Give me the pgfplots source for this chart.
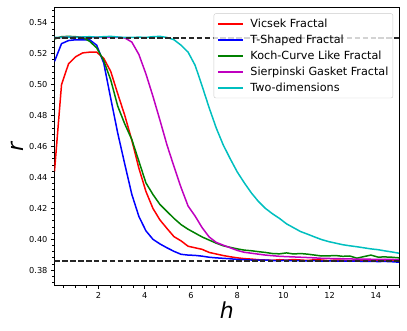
\documentclass[border=0pt]{standalone}
\usepackage{fontspec}
\setmainfont{DejaVu Sans}
\usepackage{pgfplots}
\usepackage{pgfplotstable}
\pgfplotsset{compat=1.18}

\definecolor{mplgreen}{rgb}{0,0.5,0}
\definecolor{mplmag}{rgb}{0.75,0,0.75}
\definecolor{mplcyan}{rgb}{0,0.75,0.75}

% h, Vicsek, T-shaped, Koch-curve like, Sierpinski gasket, two-dimensions
\pgfplotstableread{
h      vic     tsh     koch    sier    two
0.100  0.4440  0.5150  0.5295  0.5300  0.5305
0.404  0.5000  0.5265  0.5310  0.5305  0.5305
0.708  0.5135  0.5285  0.5312  0.5308  0.5308
1.012  0.5180  0.5290  0.5310  0.5305  0.5305
1.316  0.5205  0.5290  0.5305  0.5306  0.5308
1.620  0.5210  0.5290  0.5280  0.5305  0.5310
1.924  0.5210  0.5255  0.5238  0.5305  0.5307
2.229  0.5170  0.5140  0.5155  0.5305  0.5310
2.533  0.5085  0.4910  0.5030  0.5305  0.5312
2.837  0.4940  0.4685  0.4860  0.5306  0.5308
3.141  0.4800  0.4485  0.4745  0.5302  0.5305
3.445  0.4640  0.4290  0.4645  0.5275  0.5305
3.749  0.4460  0.4148  0.4505  0.5195  0.5307
4.053  0.4310  0.4055  0.4365  0.5070  0.5305
4.357  0.4200  0.4000  0.4290  0.4925  0.5310
4.661  0.4125  0.3970  0.4225  0.4770  0.5312
4.965  0.4070  0.3945  0.4180  0.4610  0.5305
5.269  0.4017  0.3922  0.4135  0.4470  0.5290
5.573  0.3990  0.3903  0.4095  0.4335  0.5255
5.878  0.3955  0.3898  0.4065  0.4215  0.5210
6.182  0.3945  0.3896  0.4040  0.4150  0.5125
6.486  0.3935  0.3891  0.4015  0.4075  0.4990
6.790  0.3915  0.3884  0.3995  0.4015  0.4850
7.094  0.3905  0.3880  0.3975  0.3980  0.4720
7.398  0.3895  0.3877  0.3958  0.3962  0.4610
7.702  0.3887  0.3874  0.3948  0.3945  0.4520
8.006  0.3880  0.3870  0.3938  0.3928  0.4435
8.310  0.3875  0.3868  0.3930  0.3916  0.4365
8.614  0.3872  0.3866  0.3926  0.3910  0.4300
8.918  0.3868  0.3865  0.3920  0.3904  0.4245
9.222  0.3866  0.3866  0.3915  0.3898  0.4200
9.527  0.3864  0.3863  0.3908  0.3894  0.4165
9.831  0.3868  0.3862  0.3906  0.3890  0.4135
10.135 0.3865  0.3864  0.3912  0.3888  0.4100
10.439 0.3869  0.3861  0.3905  0.3886  0.4075
10.743 0.3866  0.3862  0.3908  0.3884  0.4050
11.047 0.3863  0.3860  0.3904  0.3882  0.4033
11.351 0.3868  0.3862  0.3898  0.3880  0.4015
11.655 0.3866  0.3859  0.3892  0.3877  0.3998
11.959 0.3862  0.3861  0.3893  0.3876  0.3985
12.263 0.3866  0.3858  0.3895  0.3875  0.3975
12.567 0.3864  0.3860  0.3890  0.3874  0.3965
12.871 0.3860  0.3858  0.3892  0.3873  0.3958
13.176 0.3866  0.3859  0.3878  0.3872  0.3952
13.480 0.3862  0.3857  0.3888  0.3872  0.3945
13.784 0.3865  0.3858  0.3898  0.3871  0.3938
14.088 0.3861  0.3856  0.3885  0.3870  0.3933
14.392 0.3864  0.3857  0.3886  0.3871  0.3925
14.696 0.3862  0.3855  0.3884  0.3870  0.3918
15.000 0.3860  0.3852  0.3880  0.3868  0.3910
}\data

\begin{document}
\begin{tikzpicture}
\begin{axis}[
    name=ax,
    set layers,
    scale only axis,
    width=344.5pt, height=278.4pt,
    xmin=0.1, xmax=15,
    ymin=0.37, ymax=0.55,
    xtick={2,4,6,8,10,12,14},
    ytick={0.38,0.40,0.42,0.44,0.46,0.48,0.50,0.52,0.54},
    minor xtick={0.5,1,...,15},
    minor ytick={0.372,0.376,...,0.549},
    tick align=outside,
    tick pos=left,
    major tick length=3.5pt,
    minor tick length=2pt,
    every tick/.style={black, line width=0.8pt},
    axis line style={line width=0.8pt},
    /pgf/number format/assume math mode=true,
    yticklabel style={/pgf/number format/fixed, /pgf/number format/precision=2, /pgf/number format/fixed zerofill},
    ticklabel style={font=\fontsize{8.2}{10}\selectfont},
    xlabel={\itshape h},
    ylabel={\itshape r},
    label style={font=\fontsize{22}{26}\selectfont},
    xlabel style={at={(axis description cs:0.5,0)}, anchor=center, yshift=-24.3pt},
    ylabel style={at={(axis description cs:-0.107,0.5)}, anchor=center},
    legend image code/.code={\draw[#1, line width=1.8pt] (0pt,0pt) -- (25pt,0pt);},
    legend cell align=left,
    legend style={
        at={(rel axis cs:0.983,0.978)}, anchor=north east,
        draw=black!20, rounded corners=2pt, fill=white, fill opacity=0.8, text opacity=1,
        font=\fontsize{11.2}{13}\selectfont,
        inner sep=3pt, row sep=1.6pt,
        nodes={inner sep=1.5pt, text height=9pt, text depth=2.4pt},
        /tikz/every odd column/.append style={column sep=5.3pt},
    },
]
\addplot[red, line width=1.5pt] table[x=h, y=vic] {\data};
\addlegendentry{Vicsek Fractal}
\addplot[blue, line width=1.5pt] table[x=h, y=tsh] {\data};
\addlegendentry{T-Shaped Fractal}
\addplot[mplgreen, line width=1.5pt] table[x=h, y=koch] {\data};
\addlegendentry{Koch-Curve Like Fractal}
\addplot[mplmag, line width=1.5pt] table[x=h, y=sier] {\data};
\addlegendentry{Sierpinski Gasket Fractal}
\addplot[mplcyan, line width=1.5pt] table[x=h, y=two] {\data};
\addlegendentry{Two-dimensions}
\addplot[black!85, line width=1.5pt, dash pattern=on 5.5pt off 2.4pt, forget plot] coordinates {(0.1,0.53) (15,0.53)};
\addplot[black!85, line width=1.5pt, dash pattern=on 5.5pt off 2.4pt, forget plot] coordinates {(0.1,0.386) (15,0.386)};
\end{axis}
\pgfresetboundingbox
\path (ax.south west) ++(-54.5pt,-45.3pt) coordinate (bl);
\useasboundingbox (bl) rectangle ++(407pt,331pt);
\end{tikzpicture}
\end{document}
